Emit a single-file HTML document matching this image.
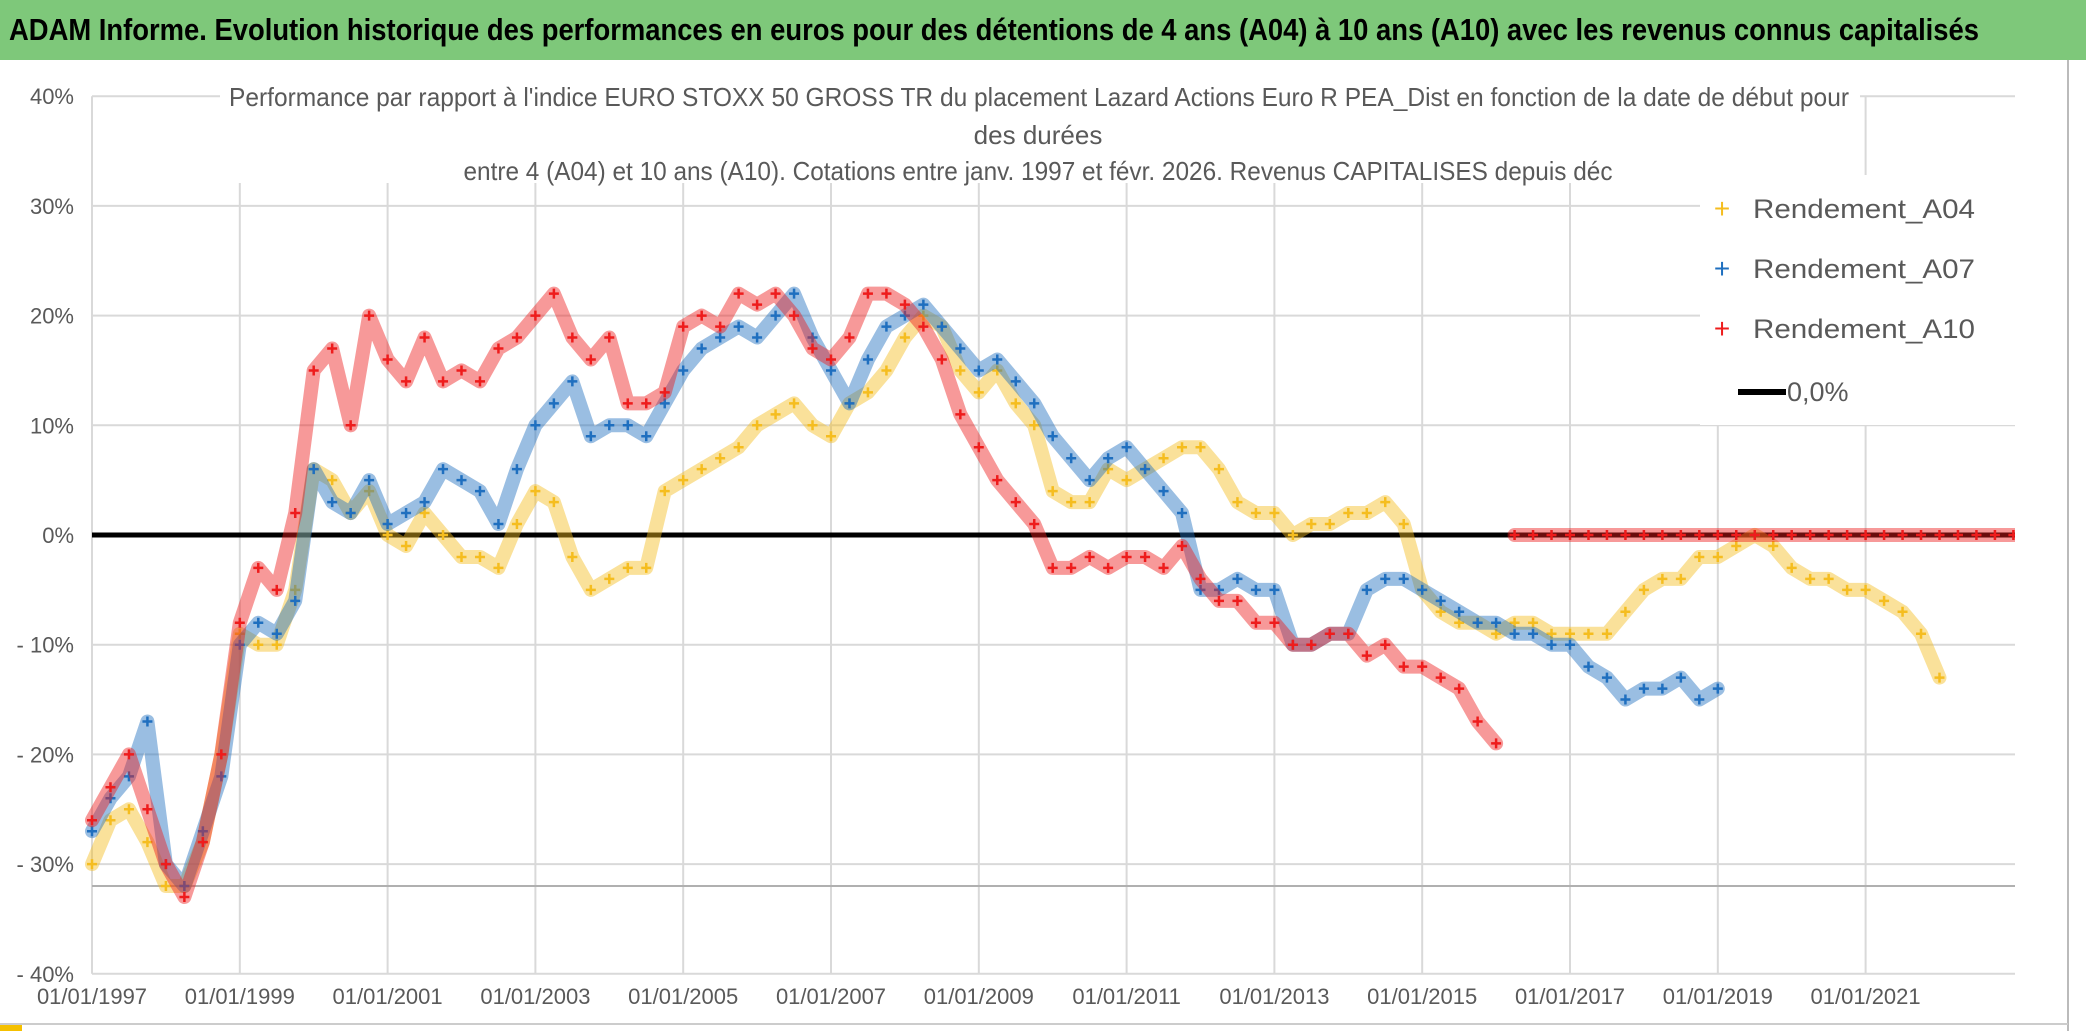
<!DOCTYPE html>
<html><head><meta charset="utf-8"><style>
html,body{margin:0;padding:0;background:#fff;}
svg{display:block;font-family:"Liberation Sans Narrow","Liberation Sans",sans-serif;}
</style></head><body>
<svg id="c" width="2086" height="1031" viewBox="0 0 2086 1031">
<defs><clipPath id="plotclip"><rect x="80" y="80" width="1935" height="910"/></clipPath></defs>
<rect x="0" y="0" width="2086" height="60" fill="#7ec87a"/>
<text x="994" y="40" font-size="31" font-weight="bold" text-anchor="middle" textLength="1970" lengthAdjust="spacingAndGlyphs" fill="#000">ADAM Informe. Evolution historique des performances en euros pour des détentions de 4 ans (A04) à 10 ans (A10) avec les revenus connus capitalisés</text>
<line x1="2068" y1="60" x2="2068" y2="1031" stroke="#bbb" stroke-width="2"/>
<line x1="0" y1="1024" x2="2068" y2="1024" stroke="#ccc" stroke-width="2"/>
<rect x="0" y="1025" width="22" height="6" fill="#f5c000"/>
<g id="grid"></g>
<g id="marks" clip-path="url(#plotclip)"></g>
<rect x="1700" y="175" width="315" height="250" fill="#fff"/>
<g>
 <g><text x="1722" y="218" font-size="28" fill="#f5bd1f" text-anchor="middle">+</text><text x="1753" y="218" font-size="27" fill="#595959" textLength="222" lengthAdjust="spacingAndGlyphs">Rendement_A04</text></g>
 <g><text x="1722" y="278" font-size="28" fill="#1f6fbf" text-anchor="middle">+</text><text x="1753" y="278" font-size="27" fill="#595959" textLength="222" lengthAdjust="spacingAndGlyphs">Rendement_A07</text></g>
 <g><text x="1722" y="338" font-size="28" fill="#ee1c1c" text-anchor="middle">+</text><text x="1753" y="338" font-size="27" fill="#595959" textLength="222" lengthAdjust="spacingAndGlyphs">Rendement_A10</text></g>
 <g><line x1="1738" y1="392" x2="1786" y2="392" stroke="#000" stroke-width="6"/><text x="1787" y="401" font-size="27" fill="#595959">0,0%</text></g>
</g>
<g font-size="26" fill="#595959" text-anchor="middle">
 <rect x="220" y="75" width="1640" height="108" fill="#fff"/>
 <text x="1039" y="106" textLength="1620" lengthAdjust="spacingAndGlyphs">Performance par rapport à l'indice EURO STOXX 50 GROSS TR  du placement Lazard Actions Euro R PEA_Dist en fonction de la date de début pour</text>
 <text x="1038" y="144">des durées</text>
 <text x="1038" y="180" textLength="1149" lengthAdjust="spacingAndGlyphs">entre 4 (A04) et 10 ans (A10). Cotations entre janv. 1997 et févr. 2026. Revenus CAPITALISES depuis déc</text>
</g>
</svg>
<script>
const yTicks=[40,30,20,10,0,-10,-20,-30,-40];
const xTickYears=[1997,1999,2001,2003,2005,2007,2009,2011,2013,2015,2017,2019,2021];
const start=1997, step=0.25;
const a04=[-30,-26,-25,-28,-32,-32,-28,-20,-9,-10,-10,-5,6,5,2,4,0,-1,2,0,-2,-2,-3,1,4,3,-2,-5,-4,-3,-3,4,5,6,7,8,10,11,12,10,9,12,13,15,18,20,19,15,13,15,12,10,4,3,3,6,5,6,7,8,8,6,3,2,2,0,1,1,2,2,3,1,-5,-7,-8,-8,-9,-8,-8,-9,-9,-9,-9,-7,-5,-4,-4,-2,-2,-1,0,-1,-3,-4,-4,-5,-5,-6,-7,-9,-13];
const a07=[-27,-24,-22,-17,-30,-32,-27,-22,-10,-8,-9,-6,6,3,2,5,1,2,3,6,5,4,1,6,10,12,14,9,10,10,9,12,15,17,18,19,18,20,22,18,15,12,16,19,20,21,19,17,15,16,14,12,9,7,5,7,8,6,4,2,-5,-5,-4,-5,-5,-10,-10,-9,-9,-5,-4,-4,-5,-6,-7,-8,-8,-9,-9,-10,-10,-12,-13,-15,-14,-14,-13,-15,-14];
const a10=[-26,-23,-20,-25,-30,-33,-28,-20,-8,-3,-5,2,15,17,10,20,16,14,18,14,15,14,17,18,20,22,18,16,18,12,12,13,19,20,19,22,21,22,20,17,16,18,22,22,21,19,16,11,8,5,3,1,-3,-3,-2,-3,-2,-2,-3,-1,-4,-6,-6,-8,-8,-10,-10,-9,-9,-11,-10,-12,-12,-13,-14,-17,-19,0,0,0,0,0,0,0,0,0,0,0,0,0,0,0,0,0,0,0,0,0,0,0,0,0,0,0,0,0];
const NS='http://www.w3.org/2000/svg';
const X=y=>92+(y-1997)*73.9;
const Y=v=>535-v*10.97;
const grid=document.getElementById('grid'), marks=document.getElementById('marks');
function mk(tag,attrs,parent){const e=document.createElementNS(NS,tag);for(const k in attrs)e.setAttribute(k,attrs[k]);parent.appendChild(e);return e;}
yTicks.forEach(t=>{
 const l=mk('line',{x1:92,x2:2015,y1:Y(t),y2:Y(t),stroke:'#d9d9d9','stroke-width':2},grid);
 
 
 const tx=mk('text',{x:74,y:Y(t)+8,'font-size':22,fill:'#595959','text-anchor':'end'},grid);
 tx.textContent=(t<0?'- '+(-t):t)+'%';
 
 
});
xTickYears.forEach(yr=>{
 const l=mk('line',{x1:X(yr),x2:X(yr),y1:Y(40),y2:Y(-40),stroke:'#d9d9d9','stroke-width':2},grid);
 
 
 const tx=mk('text',{x:X(yr),y:1004,'font-size':22,fill:'#595959','text-anchor':'middle'},grid);
 tx.textContent='01/01/'+yr;
 
 
});
const ex=mk('line',{x1:92,x2:2015,y1:Y(-32),y2:Y(-32),stroke:'#b0b0b0','stroke-width':2},grid);


const zl=mk('line',{x1:92,x2:2015,y1:Y(0),y2:Y(0),stroke:'#000','stroke-width':5},grid);


function series(arr,color,name){
 const g=mk('g',{},marks);
 
 
 let seg=[];const segs=[seg];
 arr.forEach((v,i)=>{
  if(i>0&&Math.abs(v-arr[i-1])>12&&v===0){seg=[];segs.push(seg);}
  seg.push(X(start+i*step)+','+Y(v));
 });
 segs.forEach(s=>mk('polyline',{points:s.join(' '),fill:'none',stroke:color,'stroke-width':14,'stroke-opacity':0.45,'stroke-linejoin':'round','stroke-linecap':'round'},g));
 arr.forEach((v,i)=>{
  const x=X(start+i*step), y=Y(v);
  const p=mk('path',{d:`M${x-5},${y}H${x+5}M${x},${y-5}V${y+5}`,stroke:color,'stroke-width':2.5},g);
  
  
 });
}
series(a04,'#f5bd1f','series-a04');
series(a07,'#1f6fbf','series-a07');
series(a10,'#ee1c1c','series-a10');
</script>
</body></html>
